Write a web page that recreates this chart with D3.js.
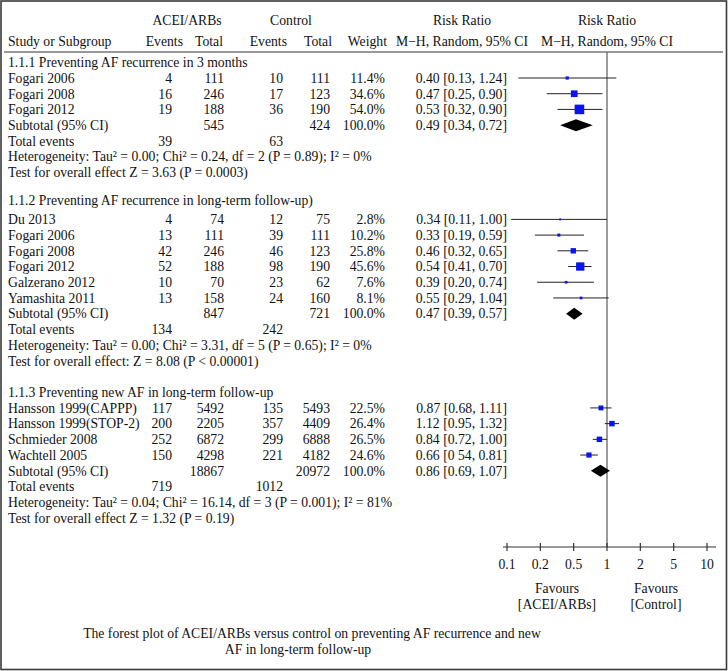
<!DOCTYPE html>
<html>
<head>
<meta charset="utf-8">
<script src="https://cdn.jsdelivr.net/npm/d3@7"></script>
<style>
  html, body { margin: 0; padding: 0; background: #fff; }
  svg { display: block; }
  text { font-family: "Liberation Serif", "Times New Roman", serif; font-size: 13.7px; fill: #111; }
</style>
</head>
<body>
<svg id="chart" width="728" height="671"></svg>
<script>
// ---------------- DATA ----------------
const sectionTitles = [
  "1.1.1 Preventing AF recurrence in 3 months",
  "1.1.2 Preventing AF recurrence in long-term follow-up)",
  "1.1.3 Preventing new AF in long-term follow-up"
];
const studyNames = [
  "Fogari 2006", "Fogari 2008", "Fogari 2012",
  "Du 2013", "Fogari 2006", "Fogari 2008", "Fogari 2012", "Galzerano 2012", "Yamashita 2011",
  "Hansson 1999(CAPPP)", "Hansson 1999(STOP-2)", "Schmieder 2008", "Wachtell 2005"
];
const studySection = [0, 0, 0, 1, 1, 1, 1, 1, 1, 2, 2, 2, 2];
const aceEvents = [4, 16, 19, 4, 13, 42, 52, 10, 13, 117, 200, 252, 150];
const aceTotal  = [111, 246, 188, 74, 111, 246, 188, 70, 158, 5492, 2205, 6872, 4298];
const ctlEvents = [10, 17, 36, 12, 39, 46, 98, 23, 24, 135, 357, 299, 221];
const ctlTotal  = [111, 123, 190, 75, 111, 123, 190, 62, 160, 5493, 4409, 6888, 4182];
const weights   = [11.4, 34.6, 54.0, 2.8, 10.2, 25.8, 45.6, 7.6, 8.1, 22.5, 26.4, 26.5, 24.6];
const rr        = [0.40, 0.47, 0.53, 0.34, 0.33, 0.46, 0.54, 0.39, 0.55, 0.87, 1.12, 0.84, 0.66];
const rrLow     = [0.13, 0.25, 0.32, 0.11, 0.19, 0.32, 0.41, 0.20, 0.29, 0.68, 0.95, 0.72, 0.54];
const rrHigh    = [1.24, 0.90, 0.90, 1.00, 0.59, 0.65, 0.70, 0.74, 1.04, 1.11, 1.32, 1.00, 0.81];
const ciLabels  = [
  "0.40 [0.13, 1.24]", "0.47 [0.25, 0.90]", "0.53 [0.32, 0.90]",
  "0.34 [0.11, 1.00]", "0.33 [0.19, 0.59]", "0.46 [0.32, 0.65]", "0.54 [0.41, 0.70]",
  "0.39 [0.20, 0.74]", "0.55 [0.29, 1.04]",
  "0.87 [0.68, 1.11]", "1.12 [0.95, 1.32]", "0.84 [0.72, 1.00]", "0.66 [0 54, 0.81]"
];

const subAceTotal = [545, 847, 18867];
const subCtlTotal = [424, 721, 20972];
const subRR   = [0.49, 0.47, 0.86];
const subLow  = [0.34, 0.39, 0.69];
const subHigh = [0.72, 0.57, 1.07];
const subLabels = ["0.49 [0.34, 0.72]", "0.47 [0.39, 0.57]", "0.86 [0.69, 1.07]"];
const totAceEvents = [39, 134, 719];
const totCtlEvents = [63, 242, 1012];
const heterogeneity = [
  "Heterogeneity: Tau² = 0.00; Chi² = 0.24, df = 2 (P = 0.89); I² = 0%",
  "Heterogeneity: Tau² = 0.00; Chi² = 3.31, df = 5 (P = 0.65); I² = 0%",
  "Heterogeneity: Tau² = 0.04; Chi² = 16.14, df = 3 (P = 0.001); I² = 81%"
];
const overallTest = [
  "Test for overall effect Z = 3.63 (P = 0.0003)",
  "Test for overall effect: Z = 8.08 (P < 0.00001)",
  "Test for overall effect Z = 1.32 (P = 0.19)"
];
const tickLabels = ["0.1", "0.2", "0.5", "1", "2", "5", "10"];
const caption = [
  "The forest plot of ACEI/ARBs versus control on preventing AF recurrence and new",
  "AF in long-term follow-up"
];

// ---------------- LAYOUT ----------------
const svg = d3.select("#chart");
const W = 728, H = 671;

// border
svg.append("rect").attr("x", 1).attr("y", 1).attr("width", W - 2.5).attr("height", H - 2.5)
  .attr("fill", "none").attr("stroke", "#3a3a3a").attr("stroke-width", 1.6);

const rowY = k => 78 + 15.71 * k;
const plotL = 507, plotR = 707;
const x = d3.scaleLog().domain([0.1, 10]).range([plotL, plotR]);
const xTicks = d3.scalePoint().domain(tickLabels).range([plotL, plotR]);
const axisY = 547, topLineY = 52;

const col = { study: 8, aceEv: 172, aceTot: 224, ctlEv: 283, ctlTot: 330, weight: 385, ci: 507 };

function txt(xp, yp, s, anchor) {
  return svg.append("text").attr("x", xp).attr("y", yp).attr("dy", "0.35em")
    .attr("text-anchor", anchor || "start").text(s);
}

// headers
txt(187, 20, "ACEI/ARBs", "middle");
txt(291, 20, "Control", "middle");
txt(462, 20, "Risk Ratio", "middle");
txt(607, 20, "Risk Ratio", "middle");
txt(col.study, 41, "Study or Subgroup");
txt(183, 41, "Events", "end");
txt(223, 41, "Total", "end");
txt(287, 41, "Events", "end");
txt(332, 41, "Total", "end");
txt(387, 41, "Weight", "end");
txt(462, 41, "M\u2212H, Random, 95% CI", "middle");
txt(607, 41, "M\u2212H, Random, 95% CI", "middle");

svg.append("line").attr("x1", 4).attr("x2", 723).attr("y1", topLineY).attr("y2", topLineY)
  .attr("stroke", "#333").attr("stroke-width", 1.2);

// null line
svg.append("line").attr("x1", x(1)).attr("x2", x(1)).attr("y1", topLineY).attr("y2", axisY)
  .attr("stroke", "#7a7a7a").attr("stroke-width", 1.5);

// section row positions
const titleK = [-1, 7.8, 20];
const firstK = [0, 9, 21];

sectionTitles.forEach((t, s) => {
  txt(col.study, rowY(titleK[s]), t);
  const idx = studyNames.map((_, i) => i).filter(i => studySection[i] === s);
  idx.forEach((i, j) => {
    const y = rowY(firstK[s] + j);
    txt(col.study, y, studyNames[i]);
    txt(col.aceEv, y, aceEvents[i], "end");
    txt(col.aceTot, y, aceTotal[i], "end");
    txt(col.ctlEv, y, ctlEvents[i], "end");
    txt(col.ctlTot, y, ctlTotal[i], "end");
    txt(col.weight, y, weights[i].toFixed(1) + "%", "end");
    txt(col.ci, y, ciLabels[i], "end");
    // CI line
    svg.append("line").attr("x1", x(rrLow[i])).attr("x2", x(rrHigh[i]))
      .attr("y1", y).attr("y2", y).attr("stroke", "#222").attr("stroke-width", 1);
    // square
    const side = 1.5 + 0.15 * weights[i];
    svg.append("rect").attr("x", x(rr[i]) - side / 2).attr("y", y - side / 2)
      .attr("width", side).attr("height", side).attr("fill", "#0a14f0");
  });
  const kSub = firstK[s] + idx.length;
  const ys = rowY(kSub);
  txt(col.study, ys, "Subtotal (95% CI)");
  txt(col.aceTot, ys, subAceTotal[s], "end");
  txt(col.ctlTot, ys, subCtlTotal[s], "end");
  txt(col.weight, ys, "100.0%", "end");
  txt(col.ci, ys, subLabels[s], "end");
  const dh = 6;
  svg.append("path")
    .attr("d", `M${x(subLow[s])},${ys} L${x(subRR[s])},${ys - dh} L${x(subHigh[s])},${ys} L${x(subRR[s])},${ys + dh} Z`)
    .attr("fill", "#000");
  const yt = rowY(kSub + 1);
  txt(col.study, yt, "Total events");
  txt(col.aceEv, yt, totAceEvents[s], "end");
  txt(col.ctlEv, yt, totCtlEvents[s], "end");
  txt(col.study, rowY(kSub + 2), heterogeneity[s]);
  txt(col.study, rowY(kSub + 3), overallTest[s]);
});

// axis
const axisG = svg.append("g").attr("transform", `translate(0,${axisY})`);
axisG.append("line").attr("x1", 503).attr("x2", 716).attr("y1", 0).attr("y2", 0)
  .attr("stroke", "#333").attr("stroke-width", 1.2);
axisG.selectAll(".tk").data(tickLabels).enter().append("line")
  .attr("x1", d => xTicks(d)).attr("x2", d => xTicks(d)).attr("y1", -4).attr("y2", 4)
  .attr("stroke", "#333").attr("stroke-width", 1.2);
axisG.selectAll(".tl").data(tickLabels).enter().append("text")
  .attr("x", d => xTicks(d)).attr("y", 17).attr("dy", "0.35em")
  .attr("text-anchor", "middle").text(d => d);

txt(557, 588, "Favours", "middle");
txt(557, 604, "[ACEI/ARBs]", "middle");
txt(656, 588, "Favours", "middle");
txt(656, 604, "[Control]", "middle");

// caption
txt(312, 633, caption[0], "middle");
txt(298, 649, caption[1], "middle");
</script>
</body>
</html>
